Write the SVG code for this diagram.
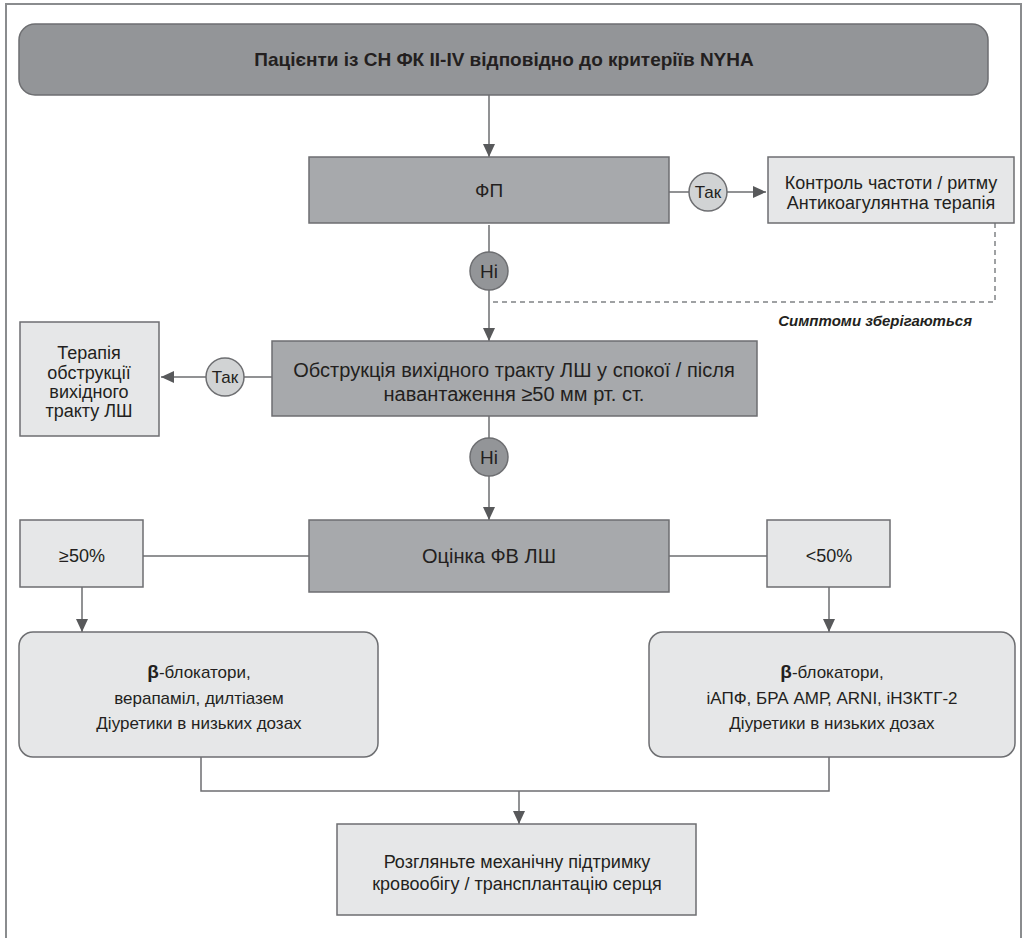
<svg xmlns="http://www.w3.org/2000/svg" width="1028" height="938" viewBox="0 0 1028 938">
<defs>
<style>
.t{font-family:"Liberation Sans",Arial,sans-serif;fill:#231f20;text-anchor:middle}
.dark{fill:#939598;stroke:#6d6e71;stroke-width:1.5}
.mid{fill:#a7a9ac;stroke:#6d6e71;stroke-width:1.5}
.light{fill:#e6e7e8;stroke:#6d6e71;stroke-width:1.5}
.yes{fill:#d1d3d4;stroke:#6d6e71;stroke-width:1.5}
.no{fill:#939598;stroke:#6d6e71;stroke-width:1.5}
.ln{fill:none;stroke:#6d6e71;stroke-width:1.5}
.dash{fill:none;stroke:#808285;stroke-width:1.5;stroke-dasharray:5 4}
</style>
<marker id="arr" markerWidth="14" markerHeight="14" refX="13" refY="7" orient="auto" markerUnits="userSpaceOnUse">
<path d="M0,1 L13,7 L0,13 z" fill="#58595b"/>
</marker>
</defs>
<rect width="1028" height="938" fill="#ffffff"/>
<path d="M6,940 V4 H1021 V940" fill="none" stroke="#8a8c8e" stroke-width="2"/>

<g id="connectors">
<line class="ln" x1="489" y1="95" x2="489" y2="157" marker-end="url(#arr)"/>
<line class="ln" x1="669" y1="192" x2="689" y2="192"/>
<line class="ln" x1="727" y1="192" x2="766" y2="192" marker-end="url(#arr)"/>
<line class="ln" x1="489" y1="225" x2="489" y2="252"/>
<line class="ln" x1="489" y1="290" x2="489" y2="341" marker-end="url(#arr)"/>
<path class="dash" d="M995,223 V302 H493"/>
<line class="ln" x1="272" y1="377" x2="244" y2="377"/>
<line class="ln" x1="206" y1="377" x2="161" y2="377" marker-end="url(#arr)"/>
<line class="ln" x1="489" y1="416" x2="489" y2="438"/>
<line class="ln" x1="489" y1="476" x2="489" y2="520" marker-end="url(#arr)"/>
<line class="ln" x1="143" y1="556" x2="309" y2="556"/>
<line class="ln" x1="669" y1="556" x2="767" y2="556"/>
<line class="ln" x1="82" y1="587" x2="82" y2="632" marker-end="url(#arr)"/>
<line class="ln" x1="829" y1="587" x2="829" y2="632" marker-end="url(#arr)"/>
<path class="ln" d="M201,757 V791 H829 V757"/>
<line class="ln" x1="519" y1="791" x2="519" y2="824" marker-end="url(#arr)"/>
<text class="t" x="972" y="326" style="text-anchor:end;font-style:italic;font-weight:bold;font-size:15px">Симптоми зберігаються</text>
</g>

<g id="header">
<rect class="dark" x="19" y="24" width="969" height="71" rx="16"/>
<text class="t" x="504" y="66" style="font-weight:bold;font-size:19px">Пацієнти із СН ФК ІІ-ІV відповідно до критеріїв NYHA</text>
</g>

<g id="fp">
<rect class="mid" x="309" y="157" width="360" height="66"/>
<text class="t" x="489" y="197" style="font-size:19px">ФП</text>
</g>

<g id="fp-yes">
<circle class="yes" cx="708" cy="192" r="19"/>
<text class="t" x="708" y="198" style="font-size:17px">Так</text>
</g>

<g id="rate-control">
<rect class="light" x="768" y="157" width="246" height="66"/>
<text class="t" x="891" y="189" style="font-size:18px">Контроль частоти / ритму</text>
<text class="t" x="891" y="209" style="font-size:18px">Антикоагулянтна терапія</text>
</g>

<g id="fp-no">
<circle class="no" cx="489" cy="271" r="19"/>
<text class="t" x="489" y="278" style="font-size:19px">Ні</text>
</g>

<g id="obstruction">
<rect class="mid" x="272" y="341" width="485" height="75"/>
<text class="t" x="514" y="377" style="font-size:20px">Обструкція вихідного тракту ЛШ у спокої / після</text>
<text class="t" x="514" y="401" style="font-size:20px">навантаження ≥50 мм рт. ст.</text>
</g>

<g id="obs-yes">
<circle class="yes" cx="225" cy="377" r="19"/>
<text class="t" x="225" y="383" style="font-size:17px">Так</text>
</g>

<g id="obs-therapy">
<rect class="light" x="20" y="322" width="139" height="114"/>
<text class="t" x="89" y="359" style="font-size:18px">Терапія</text>
<text class="t" x="89" y="379" style="font-size:18px">обструкції</text>
<text class="t" x="89" y="398" style="font-size:18px">вихідного</text>
<text class="t" x="89" y="417" style="font-size:18px">тракту ЛШ</text>
</g>

<g id="obs-no">
<circle class="no" cx="489" cy="457" r="19"/>
<text class="t" x="489" y="464" style="font-size:19px">Ні</text>
</g>

<g id="lvef">
<rect class="mid" x="309" y="520" width="360" height="72"/>
<text class="t" x="489" y="563" style="font-size:20px">Оцінка ФВ ЛШ</text>
</g>

<g id="ge50">
<rect class="light" x="20" y="520" width="123" height="67"/>
<text class="t" x="82" y="562" style="font-size:18px">≥50%</text>
</g>

<g id="lt50">
<rect class="light" x="767" y="520" width="123" height="67"/>
<text class="t" x="829" y="562" style="font-size:18px">&lt;50%</text>
</g>

<g id="therapy-preserved">
<rect class="light" x="19" y="632" width="359" height="125" rx="14"/>
<text class="t" x="199" y="678" style="font-size:17px"><tspan style="font-weight:bold;font-size:19px">β</tspan>-блокатори,</text>
<text class="t" x="199" y="704" style="font-size:17px">верапаміл, дилтіазем</text>
<text class="t" x="199" y="729" style="font-size:17px">Діуретики в низьких дозах</text>
</g>

<g id="therapy-reduced">
<rect class="light" x="649" y="632" width="366" height="125" rx="14"/>
<text class="t" x="832" y="678" style="font-size:17px"><tspan style="font-weight:bold;font-size:19px">β</tspan>-блокатори,</text>
<text class="t" x="832" y="704" style="font-size:17px">іАПФ, БРА АМР, ARNI, іНЗКТГ-2</text>
<text class="t" x="832" y="729" style="font-size:17px">Діуретики в низьких дозах</text>
</g>

<g id="mcs">
<rect class="light" x="337" y="824" width="359" height="91"/>
<text class="t" x="517" y="868" style="font-size:18px">Розгляньте механічну підтримку</text>
<text class="t" x="517" y="890" style="font-size:18px">кровообігу / трансплантацію серця</text>
</g>
</svg>
